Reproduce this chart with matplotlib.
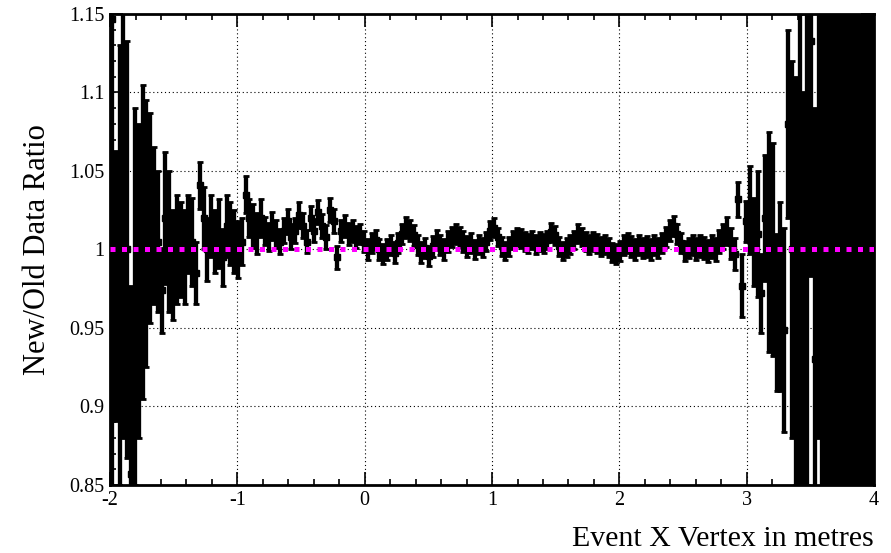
import numpy as np
import matplotlib
matplotlib.use("Agg")
import matplotlib.pyplot as plt
from matplotlib.ticker import MultipleLocator

# histogram binning: 200 bins from -2 m to 4 m
bin_edges = np.linspace(-2.0, 4.0, 201)

ratio = [
    1.147, 0.977, 0.96, 1.02, 1.00, 0.857, 0.97, 0.98, 1.005, 1.01,
    1.02, 1.015, 1.005, 0.974, 1.02, 1.005, 0.99, 1.0, 1.0, 0.995,
    1.01, 1.005, 0.985, 1.041, 1.02, 1.0, 1.015, 1.005, 1.01, 0.995,
    1.015, 1.01, 1.005, 1.0, 1.005, 1.035, 1.02, 1.015, 1.01, 1.02,
    1.012, 1.008, 1.015, 1.01, 1.005, 1.012, 1.018, 1.008, 1.012, 1.022,
    1.015, 1.005, 1.02, 1.012, 1.024, 1.015, 1.008, 1.025, 1.018, 0.995,
    1.012, 1.015, 1.01, 1.012, 1.008, 1.01, 1.005, 1.0, 1.004, 1.006,
    1.0, 0.997, 1.0, 1.003, 0.998, 1.004, 1.01, 1.014, 1.012, 1.009,
    1.003, 0.998, 1.001, 0.996, 1.002, 1.006, 1.003, 1.0, 1.005, 1.008,
    1.01, 1.008, 1.005, 1.002, 1.004, 1.0, 1.003, 1.001, 1.005, 1.012,
    1.014, 1.008, 1.002, 0.999, 1.002, 1.006, 1.008, 1.007, 1.005, 1.004,
    1.006, 1.003, 1.005, 1.004, 1.006, 1.011, 1.009, 1.002, 0.999, 1.001,
    1.003, 1.006, 1.01, 1.008, 1.005, 1.003, 1.005, 1.004, 1.002, 1.003,
    1.001, 0.998, 0.997, 0.999, 1.003, 1.004, 1.002, 1.0, 1.003, 1.001,
    1.002, 1.0, 1.003, 1.001, 1.004, 1.008, 1.012, 1.015, 1.01, 1.004,
    0.999, 1.001, 1.003, 1.0, 1.002, 1.001, 0.999, 1.002, 1.0, 1.005,
    1.008, 1.012, 1.004, 0.997, 1.032, 0.977, 1.018, 1.025, 1.005, 1.01,
    0.972, 1.02, 1.005, 1.0, 0.96, 0.97, 0.949, 1.08, 1.0, 0.98,
    1.0, 0.95, 1.0, 1.133, 0.93, 1.05, 0.98, 1.02, 0.95, 1.08,
    0.90, 1.03, 0.97, 1.1, 0.94, 1.05, 0.92, 1.12, 0.98, 1.03,
]

ratio_err = [
    0.30, 0.086, 0.17, 0.14, 0.133, 0.12, 0.12, 0.10, 0.10, 0.085,
    0.067, 0.05, 0.045, 0.027, 0.042, 0.045, 0.035, 0.035, 0.03, 0.03,
    0.025, 0.028, 0.02, 0.015, 0.02, 0.02, 0.02, 0.02, 0.022, 0.018,
    0.02, 0.02, 0.02, 0.018, 0.015, 0.012, 0.012, 0.014, 0.013, 0.012,
    0.009, 0.009, 0.009, 0.009, 0.008, 0.008, 0.008, 0.008, 0.008, 0.008,
    0.008, 0.0075, 0.0075, 0.0075, 0.0075, 0.0075, 0.0075, 0.0075, 0.0075, 0.0075,
    0.007, 0.007, 0.007, 0.007, 0.007, 0.0065, 0.0065, 0.0065, 0.0065, 0.0065,
    0.0065, 0.0065, 0.0065, 0.0065, 0.0065, 0.0065, 0.0065, 0.0065, 0.0065, 0.0065,
    0.0065, 0.0065, 0.0065, 0.0065, 0.0065, 0.0065, 0.0065, 0.0065, 0.0065, 0.0065,
    0.0065, 0.0065, 0.0065, 0.0065, 0.0065, 0.006, 0.006, 0.006, 0.006, 0.006,
    0.006, 0.006, 0.006, 0.006, 0.006, 0.006, 0.006, 0.006, 0.006, 0.006,
    0.006, 0.006, 0.006, 0.006, 0.006, 0.006, 0.006, 0.006, 0.006, 0.006,
    0.006, 0.006, 0.006, 0.006, 0.006, 0.006, 0.006, 0.006, 0.006, 0.006,
    0.006, 0.006, 0.0065, 0.0065, 0.0065, 0.0065, 0.0065, 0.0065, 0.0065, 0.0065,
    0.0065, 0.0065, 0.0065, 0.0065, 0.0065, 0.0065, 0.0065, 0.0065, 0.0065, 0.0065,
    0.0065, 0.0065, 0.0065, 0.007, 0.007, 0.007, 0.007, 0.0075, 0.0075, 0.0075,
    0.008, 0.009, 0.01, 0.01, 0.011, 0.02, 0.013, 0.028, 0.028, 0.04,
    0.025, 0.04, 0.07, 0.068, 0.05, 0.06, 0.065, 0.06, 0.12, 0.13,
    0.15, 0.15, 0.15, 0.15, 0.16, 0.17, 0.18, 0.18, 0.20, 0.25,
    0.26, 0.25, 0.28, 0.30, 0.28, 0.32, 0.30, 0.35, 0.32, 0.38,
]

x_ticks = [-2, -1, 0, 1, 2, 3, 4]
y_ticks = [0.85, 0.9, 0.95, 1.0, 1.05, 1.1, 1.15]
y_labels = ["0.85", "0.9", "0.95", "1", "1.05", "1.1", "1.15"]

centres = 0.5 * (bin_edges[:-1] + bin_edges[1:])
half_w = 0.5 * np.diff(bin_edges)

plt.rcParams["font.family"] = ["Liberation Serif", "DejaVu Serif"]

fig = plt.figure(figsize=(8.91, 5.53), dpi=100)
ax = fig.add_axes([0.1235, 0.123, 0.8575, 0.8517])

ax.errorbar(centres, ratio, yerr=ratio_err, xerr=half_w, fmt="s",
            color="black", ms=4.8, elinewidth=3.1, capsize=2.5, capthick=2,
            zorder=3)
ax.plot([-2, 4], [1, 1], color="#ff00ff", lw=3.6,
        linestyle=(0, (1, 1.3)), dash_capstyle="butt", zorder=4)

ax.set_xlim(-2, 4)
ax.set_ylim(0.85, 1.15)
ax.set_xticks(x_ticks)
ax.set_xticklabels([str(t) for t in x_ticks])
ax.set_yticks(y_ticks)
ax.set_yticklabels(y_labels)
ax.xaxis.set_minor_locator(MultipleLocator(0.2))
ax.yaxis.set_minor_locator(MultipleLocator(0.01))
ax.tick_params(which="both", direction="in", top=True, right=True,
               labelsize=14.5, width=1.2)
ax.tick_params(which="major", length=9.5, pad=4)
ax.tick_params(which="minor", length=4.5)
ax.grid(True, which="major", color="black", lw=0.8,
        linestyle=(0, (1, 2.5)), zorder=1)
for s in ax.spines.values():
    s.set_linewidth(2)

ax.set_ylabel("New/Old Data Ratio", fontsize=22, labelpad=12)
ax.set_xlabel("Event X Vertex in metres", fontsize=21.5, loc="right",
              labelpad=12)

fig.savefig("out.png", dpi=100)
